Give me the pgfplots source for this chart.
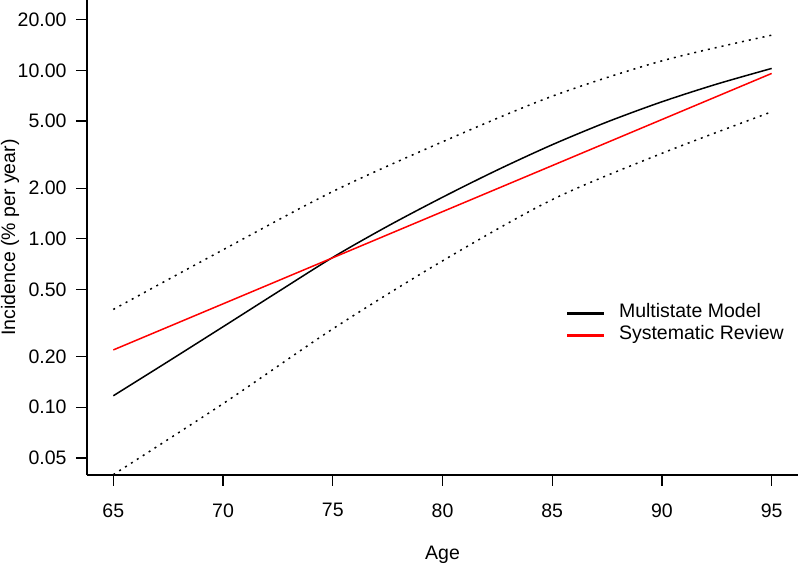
\documentclass[border=0pt]{standalone}
\usepackage{fontspec}
\setmainfont{Liberation Sans}
\usepackage{pgfplots}
\pgfplotsset{compat=1.18}
\begin{document}
\begin{tikzpicture}
\path[use as bounding box] (-87pt,-92pt) rectangle (713pt,475pt);
\begin{axis}[
 at={(0pt,0pt)}, anchor=south west,
 scale only axis, width=711pt, height=475pt,
 xmin=63.8, xmax=96.2, ymin=0.0396, ymax=26.2,
 ymode=log,
 axis x line*=bottom, axis y line*=left,
 axis line style={line width=1.3pt, -},
 xtick={65,70,75,80,85,90,95},
 ytick={0.05,0.1,0.2,0.5,1,2,5,10,20},
 yticklabels={0.05,0.10,0.20,0.50,1.00,2.00,5.00,10.00,20.00},
 yminorticks=false, xminorticks=false,
 tick align=outside, major tick length=11pt,
 tick style={line width=1.3pt, black},
 /pgf/number format/assume math mode=true,
 tick label style={font=\fontsize{19.5}{23}\selectfont},
 yticklabel style={xshift=-6pt},
 xticklabel style={yshift=-14pt},
 every axis x label/.style={at={(axis description cs:0.5,-0.1684)}, anchor=center, font=\fontsize{19.5}{23}\selectfont},
 every axis y label/.style={at={(axis description cs:-0.1083,0.5)}, rotate=90, anchor=center, font=\fontsize{19.5}{23}\selectfont},
 xlabel={Age}, ylabel={Incidence (\% per year)},
 legend style={draw=none, fill=none, at={(axis description cs:0.673,0.3642)}, anchor=north west,
   inner sep=0pt, column sep=11pt,
   nodes={inner sep=2.5pt, text height=13pt, text depth=4pt},
   font=\fontsize{19.5}{23}\selectfont},
 legend cell align=left,
 legend image code/.code={\draw[#1, line width=2.8pt, solid] (0pt,0pt) -- (37pt,0pt);},
]
\addplot[black, line width=1.5pt, smooth] coordinates {
(65,0.117) (67.5,0.1871) (70,0.3006) (72.5,0.4842) (75,0.7762) (77.5,1.189) (80,1.766)
(82.5,2.564) (85,3.622) (87.5,4.943) (90,6.516) (92.5,8.299) (95,10.28)};
\addlegendentry{Multistate Model}
\addplot[red, line width=1.5pt] coordinates {(65,0.219) (95,9.6)};
\addlegendentry{Systematic Review}
\addplot[black, line width=1.5pt, dash pattern=on 2pt off 5pt, smooth, forget plot] coordinates {
(65,0.381) (70,0.861) (75,1.91) (80,3.77) (85,7.03) (90,11.4) (95,16.2)};
\addplot[black, line width=1.5pt, dash pattern=on 2pt off 5pt, smooth, forget plot] coordinates {
(65,0.0398) (70,0.105) (75,0.292) (80,0.74) (85,1.71) (90,3.22) (95,5.68)};
\end{axis}
\end{tikzpicture}
\end{document}
